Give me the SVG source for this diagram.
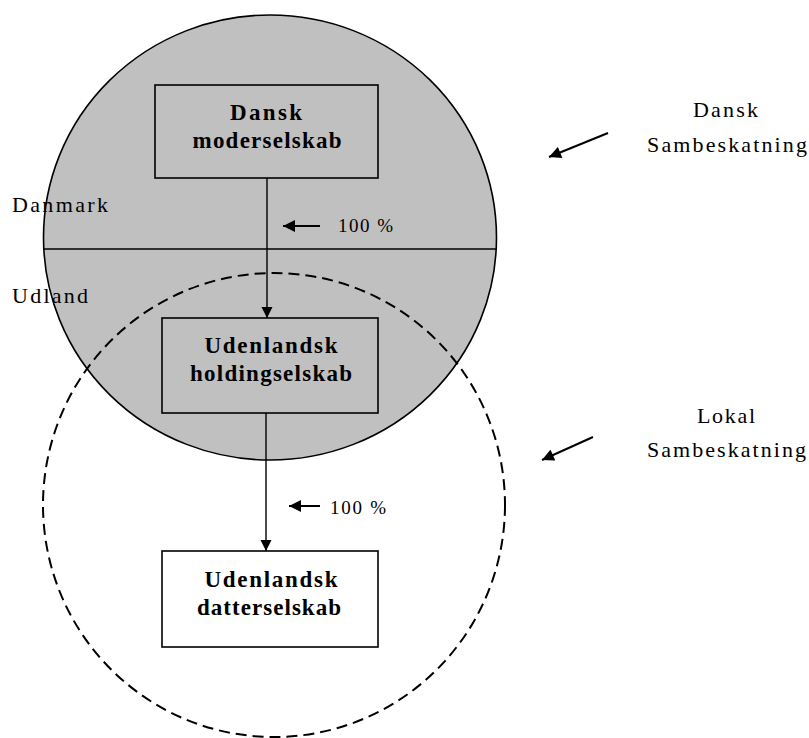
<svg xmlns="http://www.w3.org/2000/svg" width="809" height="738" viewBox="0 0 809 738">
<defs>
<marker id="ah" viewBox="0 0 10 10" refX="10" refY="5" markerWidth="11" markerHeight="12" markerUnits="userSpaceOnUse" orient="auto">
<path d="M0,0 L10,5 L0,10 z" fill="#000"/>
</marker>
<marker id="ahs" viewBox="0 0 10 10" refX="10" refY="5" markerWidth="13" markerHeight="12" markerUnits="userSpaceOnUse" orient="auto">
<path d="M0,0 L10,5 L0,10 z" fill="#000"/>
</marker>
</defs>
<style>
.node{stroke:#000;stroke-width:1.6}
.bold{font-family:"Liberation Serif","Times New Roman",serif;font-weight:bold;font-size:23px;fill:#000;text-anchor:middle}
.lbl{font-family:"Liberation Serif","Times New Roman",serif;font-size:22px;fill:#000}
.pct{font-family:"Liberation Serif","Times New Roman",serif;font-size:19px;fill:#000}
.conn{stroke:#000;stroke-width:1.4;fill:none}
.ptr{stroke:#000;stroke-width:2;fill:none}
</style>
<rect width="809" height="738" fill="#fff"/>
<g id="regions">
<ellipse cx="270" cy="237.5" rx="226.5" ry="222.5" fill="#c0c0c0" stroke="#000" stroke-width="1.6"/>
<line x1="43" y1="249" x2="497" y2="249" stroke="#000" stroke-width="1.6"/>
<ellipse cx="274" cy="505" rx="231" ry="232" fill="none" stroke="#000" stroke-width="2" stroke-dasharray="11 6"/>
</g>
<g id="node-dansk-moderselskab">
<rect class="node" x="155" y="85" width="223" height="93" fill="#c0c0c0"/>
<text class="bold" x="266" y="120" textLength="72" lengthAdjust="spacing">Dansk</text>
<text class="bold" x="267" y="148" textLength="149" lengthAdjust="spacing">moderselskab</text>
</g>
<g id="node-udenlandsk-holdingselskab">
<rect class="node" x="162" y="318" width="216" height="95" fill="#c0c0c0"/>
<text class="bold" x="271" y="353" textLength="133" lengthAdjust="spacing">Udenlandsk</text>
<text class="bold" x="271" y="381" textLength="162" lengthAdjust="spacing">holdingselskab</text>
</g>
<g id="node-udenlandsk-datterselskab">
<rect class="node" x="162" y="551" width="216" height="96" fill="#fff"/>
<text class="bold" x="271" y="587" textLength="133" lengthAdjust="spacing">Udenlandsk</text>
<text class="bold" x="269" y="615" textLength="144" lengthAdjust="spacing">datterselskab</text>
</g>
<g id="connectors">
<line class="conn" x1="267" y1="178" x2="267" y2="318" marker-end="url(#ah)"/>
<line class="conn" x1="266" y1="413" x2="266" y2="551" marker-end="url(#ah)"/>
<line class="ptr" x1="320" y1="226" x2="283" y2="226" marker-end="url(#ahs)"/>
<line class="ptr" x1="320" y1="506" x2="289" y2="506" marker-end="url(#ahs)"/>
<line class="ptr" x1="608" y1="133" x2="549" y2="157" marker-end="url(#ahs)"/>
<line class="ptr" x1="593" y1="437" x2="542" y2="460" marker-end="url(#ahs)"/>
</g>
<g id="labels">
<text class="pct" x="338" y="232" textLength="55" lengthAdjust="spacing">100 %</text>
<text class="pct" x="330" y="514" textLength="56" lengthAdjust="spacing">100 %</text>
<text class="lbl" x="12" y="212" textLength="96" lengthAdjust="spacing">Danmark</text>
<text class="lbl" x="12" y="303" textLength="76" lengthAdjust="spacing">Udland</text>
<text class="lbl" x="693" y="117" textLength="65" lengthAdjust="spacing">Dansk</text>
<text class="lbl" x="647" y="152" textLength="160" lengthAdjust="spacing">Sambeskatning</text>
<text class="lbl" x="697" y="423" textLength="58" lengthAdjust="spacing">Lokal</text>
<text class="lbl" x="647" y="457" textLength="159" lengthAdjust="spacing">Sambeskatning</text>
</g>
</svg>
